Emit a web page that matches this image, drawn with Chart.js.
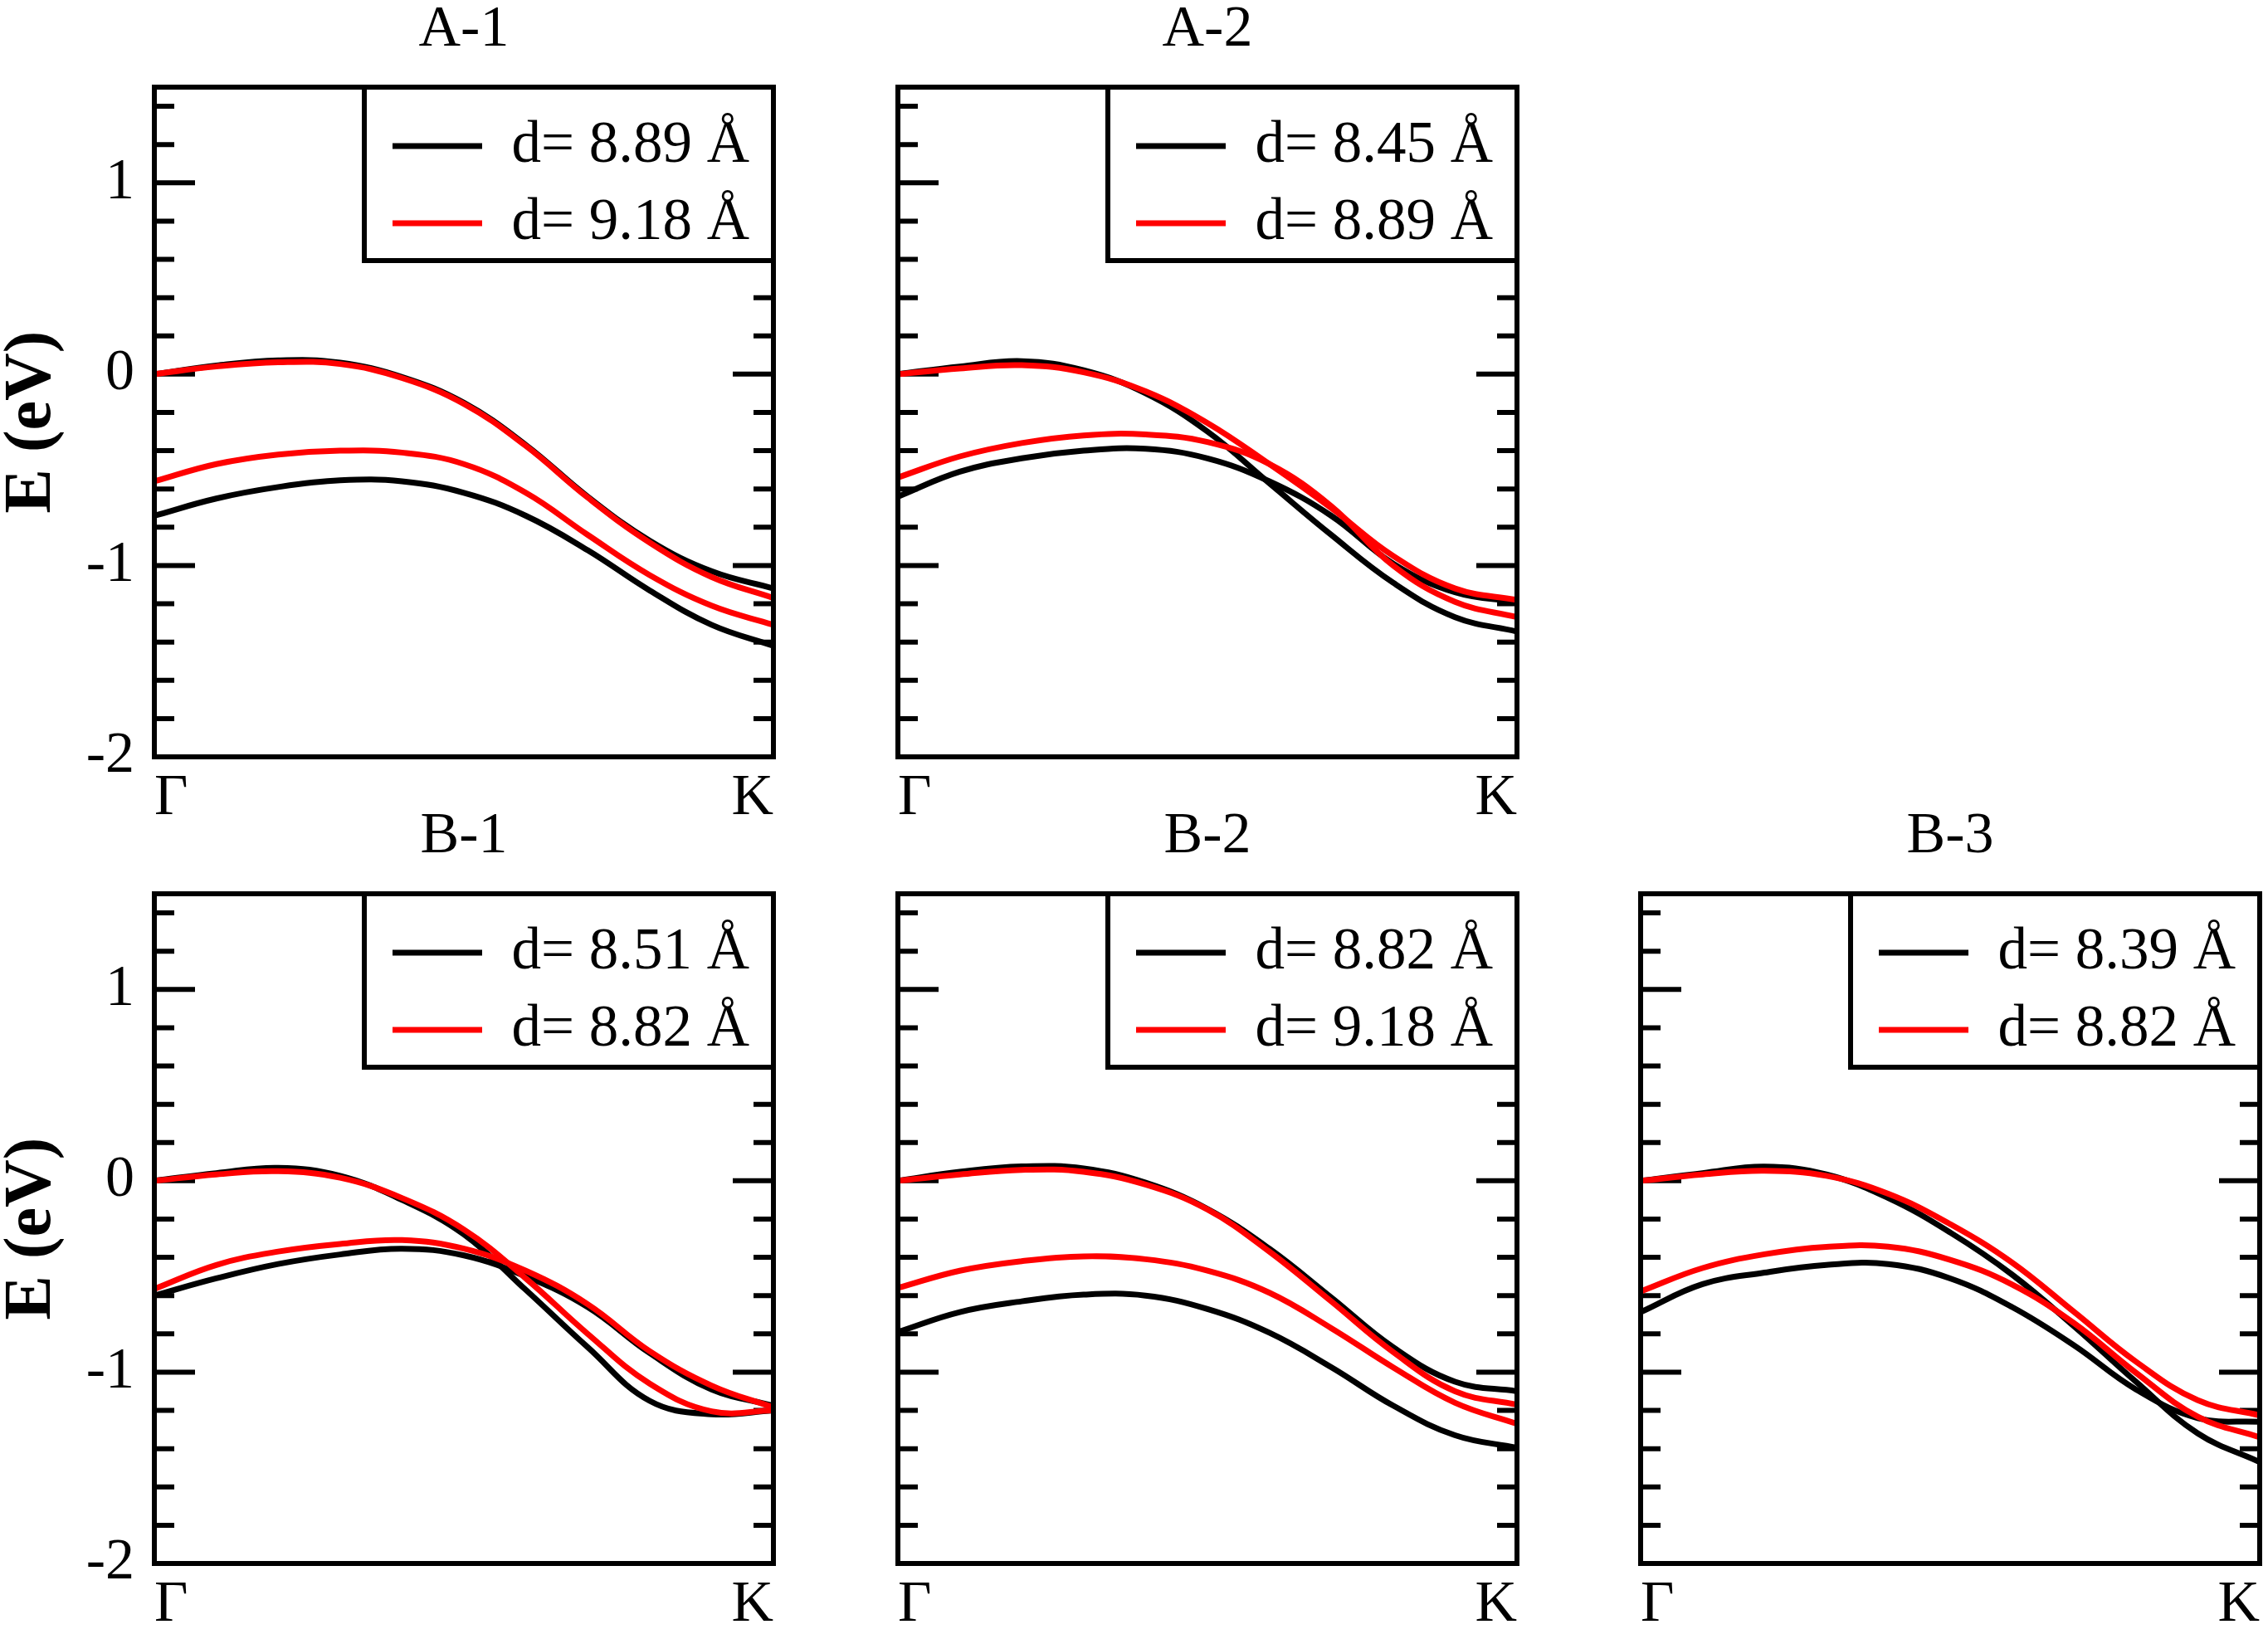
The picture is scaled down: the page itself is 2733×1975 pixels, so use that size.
<!DOCTYPE html>
<html>
<head>
<meta charset="utf-8">
<title>Band structure Γ-K</title>
<script src="https://cdn.jsdelivr.net/npm/chart.js@4.4.1/dist/chart.umd.min.js"></script>
<style>
  html, body { margin: 0; padding: 0; background: #fff; }
  #page { position: relative; width: 2733px; height: 1975px; overflow: hidden; background: #fff; }
  #page canvas { position: absolute; }
</style>
</head>
<body>
<div id="page">
  <canvas id="a1" width="942" height="992" style="left:0px;top:0px"></canvas>
  <canvas id="a2" width="942" height="992" style="left:896px;top:0px"></canvas>
  <canvas id="b1" width="942" height="992" style="left:0px;top:972px"></canvas>
  <canvas id="b2" width="942" height="992" style="left:896px;top:972px"></canvas>
  <canvas id="b3" width="942" height="992" style="left:1791px;top:972px"></canvas>
</div>
<script>
// k-path from Gamma (0) to K (1)
const K_PATH = [0, 0.1, 0.2, 0.3, 0.4, 0.5, 0.6, 0.7, 0.8, 0.9, 1.0];
const K_LABELS = ['Γ', 'K'];
const E_MIN = -2;
const E_MAX = 1.5;

// A-1
const A1_LEGEND = ['d= 8.89 Å', 'd= 9.18 Å'];
const A1_BLACK_TOP = [0, 0.045, 0.072, 0.06, -0.015, -0.15, -0.37, -0.64, -0.87, -1.03, -1.12];
const A1_BLACK_LOW = [-0.74, -0.65, -0.59, -0.555, -0.56, -0.62, -0.74, -0.92, -1.13, -1.31, -1.42];
const A1_RED_TOP = [0, 0.04, 0.062, 0.053, -0.02, -0.155, -0.375, -0.645, -0.88, -1.06, -1.17];
const A1_RED_LOW = [-0.56, -0.47, -0.42, -0.40, -0.41, -0.47, -0.62, -0.84, -1.05, -1.21, -1.31];

// A-2
const A2_LEGEND = ['d= 8.45 Å', 'd= 8.89 Å'];
const A2_BLACK_TOP = [0, 0.04, 0.068, 0.02, -0.10, -0.30, -0.57, -0.84, -1.09, -1.27, -1.345];
const A2_BLACK_LOW = [-0.64, -0.51, -0.44, -0.40, -0.39, -0.44, -0.56, -0.74, -0.99, -1.14, -1.19];
const A2_RED_TOP = [0, 0.03, 0.047, 0.01, -0.09, -0.255, -0.47, -0.70, -0.95, -1.12, -1.18];
const A2_RED_LOW = [-0.54, -0.43, -0.36, -0.32, -0.315, -0.355, -0.47, -0.69, -1.00, -1.19, -1.27];

// B-1
const B1_LEGEND = ['d= 8.51 Å', 'd= 8.82 Å'];
const B1_BLACK_TOP = [0, 0.04, 0.068, 0.026, -0.10, -0.28, -0.57, -0.87, -1.15, -1.22, -1.20];
const B1_BLACK_LOW = [-0.60, -0.51, -0.435, -0.385, -0.355, -0.39, -0.50, -0.66, -0.90, -1.09, -1.175];
const B1_RED_TOP = [0, 0.033, 0.05, 0.016, -0.09, -0.255, -0.51, -0.80, -1.06, -1.205, -1.20];
const B1_RED_LOW = [-0.565, -0.44, -0.37, -0.33, -0.31, -0.355, -0.47, -0.645, -0.89, -1.07, -1.185];

// B-2
const B2_LEGEND = ['d= 8.82 Å', 'd= 9.18 Å'];
const B2_BLACK_TOP = [0, 0.047, 0.075, 0.065, -0.01, -0.147, -0.355, -0.61, -0.87, -1.05, -1.10];
const B2_BLACK_LOW = [-0.79, -0.686, -0.63, -0.595, -0.60, -0.67, -0.794, -0.974, -1.175, -1.33, -1.395];
const B2_RED_TOP = [0, 0.033, 0.057, 0.047, -0.02, -0.15, -0.37, -0.63, -0.895, -1.10, -1.17];
const B2_RED_LOW = [-0.56, -0.47, -0.42, -0.395, -0.41, -0.47, -0.585, -0.77, -0.975, -1.16, -1.27];

// B-3
const B3_LEGEND = ['d= 8.39 Å', 'd= 8.82 Å'];
const B3_BLACK_TOP = [0, 0.04, 0.074, 0.033, -0.09, -0.27, -0.49, -0.76, -1.05, -1.32, -1.47];
const B3_BLACK_LOW = [-0.686, -0.54, -0.48, -0.44, -0.435, -0.51, -0.66, -0.86, -1.09, -1.24, -1.26];
const B3_RED_TOP = [0, 0.033, 0.052, 0.026, -0.068, -0.226, -0.427, -0.685, -0.945, -1.147, -1.226];
const B3_RED_LOW = [-0.578, -0.456, -0.384, -0.345, -0.344, -0.413, -0.542, -0.744, -1.003, -1.233, -1.341];

const SERIF = "'Liberation Serif', 'Times New Roman', Times, serif";
Chart.defaults.font.family = SERIF;
Chart.defaults.color = '#000';

function band(label, energies, color, order) {
    return {
        label: label,
        data: K_PATH.map((k, i) => ({ x: k, y: energies[i] })),
        borderColor: color,
        backgroundColor: color,
        borderWidth: 7,
        pointRadius: 0,
        pointHoverRadius: 0,
        pointBorderWidth: 7,
        tension: 0.4,
        fill: false,
        order: order
    };
}

// legend box size (px, inside the plot's top-right corner)
const LEG_W = 493;
const LEG_H = 209;

// inward ticks on both sides, white legend box, frame
const framePlugin = {
    id: 'frame',
    beforeDraw(chart) {
        const ctx = chart.ctx;
        const a = chart.chartArea;
        const y = chart.scales.y;
        const lg = chart.legend;
        lg.left = a.right - 481;
        lg.right = a.right;
        lg.top = a.top - 5;
        lg.bottom = a.top + 240;
        lg.width = lg.right - lg.left;
        lg.height = lg.bottom - lg.top;

        ctx.save();
        ctx.strokeStyle = '#000';
        ctx.lineWidth = 6;
        for (let i = 0; i <= 17; i++) {
            const v = E_MIN + i * 0.2;
            const py = y.getPixelForValue(v);
            const len = Math.abs(v - Math.round(v)) < 1e-6 ? 49 : 24;
            ctx.beginPath();
            ctx.moveTo(a.left, py);
            ctx.lineTo(a.left + len, py);
            ctx.moveTo(a.right, py);
            ctx.lineTo(a.right - len, py);
            ctx.stroke();
        }
        // legend background hides the right-hand ticks
        ctx.fillStyle = '#fff';
        ctx.fillRect(a.right - LEG_W, a.top, LEG_W, LEG_H);
        ctx.restore();
    },
    afterDraw(chart) {
        const ctx = chart.ctx;
        const a = chart.chartArea;
        ctx.save();
        ctx.strokeStyle = '#000';
        ctx.lineWidth = 6;
        ctx.strokeRect(a.left, a.top, a.right - a.left, a.bottom - a.top);
        ctx.strokeRect(a.right - LEG_W, a.top, LEG_W, LEG_H);
        ctx.restore();
    }
};

function makePanel(id, title, legend, blackTop, blackLow, redTop, redLow, showY) {
    const ctx = document.getElementById(id).getContext('2d');
    return new Chart(ctx, {
        type: 'line',
        data: {
            datasets: [
                band(legend[0], blackTop, '#000000', 2),
                band(legend[0], blackLow, '#000000', 2),
                band(legend[1], redTop, '#ff0000', 1),
                band(legend[1], redLow, '#ff0000', 1)
            ]
        },
        options: {
            responsive: false,
            animation: false,
            devicePixelRatio: 1,
            events: [],
            layout: { padding: { left: 0, right: 10, top: 0, bottom: 0 } },
            plugins: {
                title: {
                    display: true,
                    text: title,
                    fullSize: false,
                    color: '#000',
                    font: { family: SERIF, size: 70, weight: 'normal', lineHeight: 0.76 },
                    padding: { top: 10, bottom: 41.8 }
                },
                legend: {
                    position: 'chartArea',
                    labels: {
                        usePointStyle: true,
                        pointStyle: 'line',
                        pointStyleWidth: 108,
                        padding: 22,
                        color: '#000',
                        font: { family: SERIF, size: 71 },
                        filter: (item) => item.datasetIndex % 2 === 0,
                        sort: (p, q) => p.datasetIndex - q.datasetIndex
                    }
                },
                tooltip: { enabled: false }
            },
            scales: {
                x: {
                    type: 'linear',
                    min: 0,
                    max: 1,
                    grid: { display: false, drawTicks: false },
                    border: { display: false },
                    ticks: {
                        stepSize: 1,
                        align: 'inner',
                        padding: 9,
                        color: '#000',
                        font: { family: SERIF, size: 70 },
                        callback: (v) => (v === 0 ? K_LABELS[0] : K_LABELS[1])
                    },
                    afterFit: (s) => { s.height = 80; }
                },
                y: {
                    min: E_MIN,
                    max: E_MAX,
                    grid: { display: false, drawTicks: false },
                    border: { display: false },
                    ticks: {
                        display: showY,
                        stepSize: 1,
                        includeBounds: false,
                        padding: 24,
                        color: '#000',
                        font: { family: SERIF, size: 70 }
                    },
                    title: {
                        display: showY,
                        text: 'E (eV)',
                        color: '#000',
                        padding: { top: 3, bottom: 0 },
                        font: { family: SERIF, size: 80, weight: 'bold', lineHeight: 0.9 }
                    },
                    afterFit: (s) => { s.width = 186; }
                }
            }
        },
        plugins: [framePlugin]
    });
}

makePanel('a1', 'A-1', A1_LEGEND, A1_BLACK_TOP, A1_BLACK_LOW, A1_RED_TOP, A1_RED_LOW, true);
makePanel('a2', 'A-2', A2_LEGEND, A2_BLACK_TOP, A2_BLACK_LOW, A2_RED_TOP, A2_RED_LOW, false);
makePanel('b1', 'B-1', B1_LEGEND, B1_BLACK_TOP, B1_BLACK_LOW, B1_RED_TOP, B1_RED_LOW, true);
makePanel('b2', 'B-2', B2_LEGEND, B2_BLACK_TOP, B2_BLACK_LOW, B2_RED_TOP, B2_RED_LOW, false);
makePanel('b3', 'B-3', B3_LEGEND, B3_BLACK_TOP, B3_BLACK_LOW, B3_RED_TOP, B3_RED_LOW, false);
</script>
</body>
</html>
